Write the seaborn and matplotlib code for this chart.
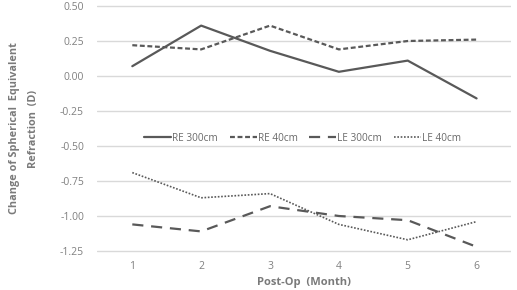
import matplotlib
matplotlib.use("Agg")
import matplotlib.pyplot as plt
import seaborn as sns
import pandas as pd

months = [1, 2, 3, 4, 5, 6]
re_300 = [0.07, 0.36, 0.18, 0.03, 0.11, -0.16]
re_40 = [0.22, 0.19, 0.36, 0.19, 0.25, 0.26]
le_300 = [-1.06, -1.11, -0.93, -1.00, -1.03, -1.22]
le_40 = [-0.69, -0.87, -0.84, -1.06, -1.17, -1.04]
series_names = ["RE 300cm", "RE 40cm", "LE 300cm", "LE 40cm"]
y_ticks = [0.50, 0.25, 0.00, -0.25, -0.50, -0.75, -1.00, -1.25]

sns.set_theme(style="white")
plt.rcParams['font.family'] = ['Open Sans', 'DejaVu Sans']

rows = []
for name, vals in zip(series_names, [re_300, re_40, le_300, le_40]):
    for m, v in zip(months, vals):
        rows.append({"Month": m, "Value": v, "Series": name})
df = pd.DataFrame(rows)

W, H = 517, 290
fig = plt.figure(figsize=(W / 100, H / 100), dpi=100)
top_px, bot_px = 3.2, 253.8
ax = fig.add_axes([96.5 / W, (H - bot_px) / H, (511 - 96.5) / W, (bot_px - top_px) / H])

line_color = "#595959"
dashes = {"RE 300cm": "", "RE 40cm": (2.2, 1.2), "LE 300cm": (5, 3.5), "LE 40cm": (1, 1)}
sns.lineplot(data=df, x="Month", y="Value", hue="Series", style="Series",
             palette={n: line_color for n in series_names}, dashes=dashes,
             linewidth=1.6, ax=ax, legend=True)

ax.set_xlim(0.48, 6.5)
ax.set_ylim(-1.27, 0.52)
ax.set_xticks(months)
ax.set_yticks(y_ticks)
ax.set_yticklabels([f"{t:.2f}" for t in y_ticks])
ax.yaxis.grid(True, color="#d9d9d9", linewidth=1.0)
ax.xaxis.grid(False)
for s in ax.spines.values():
    s.set_visible(False)
ax.tick_params(axis="both", length=0, labelsize=7.5, labelcolor="#808080")
ax.tick_params(axis="y", pad=9)
ax.tick_params(axis="x", pad=5.5)

ax.set_xlabel("Post-Op  (Month)", fontsize=8, fontweight="bold", color="#7a7a7a", labelpad=3)
ax.set_ylabel("Change of Spherical  Equivalent\nRefraction  (D)", fontsize=7.8, fontweight="bold",
              color="#7a7a7a", labelpad=15, linespacing=2.0)

leg = ax.legend(loc="center", bbox_to_anchor=(0.497, 0.462), ncol=4, frameon=False,
                fontsize=7.2, handlelength=2.7, columnspacing=1.2, handletextpad=0.1)
for t in leg.get_texts():
    t.set_color("#6a6a6a")

# thinner dotted line for LE 40cm, as in the reference
for ln in ax.get_lines():
    if ln.get_label() == "LE 40cm" or ln is ax.get_lines()[3]:
        pass
ax.get_lines()[3].set_linewidth(1.2)
leg.get_lines()[3].set_linewidth(1.2)

fig.savefig("out.png", dpi=100)
